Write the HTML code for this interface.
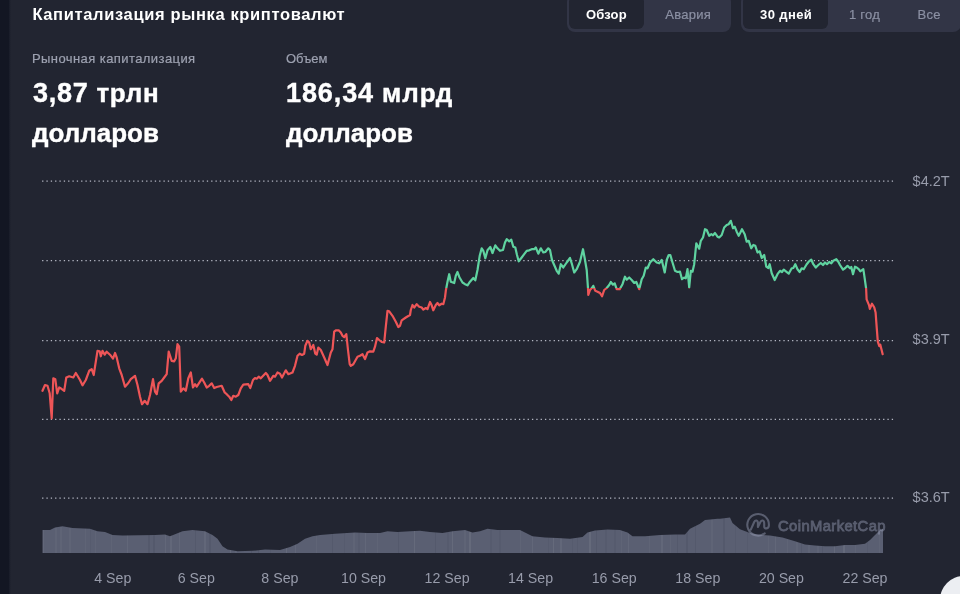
<!DOCTYPE html>
<html lang="ru"><head><meta charset="utf-8"><title>Капитализация рынка криптовалют</title>
<style>
html,body{margin:0;padding:0}
body{width:960px;height:594px;overflow:hidden;background:#222531;position:relative;font-family:"Liberation Sans",sans-serif;color:#fff}
.strip{position:absolute;left:0;top:0;width:9px;height:594px;background:#131623}
.strip2{position:absolute;left:9px;top:0;width:2px;height:594px;background:linear-gradient(90deg,#181b28,#222531)}
.t{position:absolute;white-space:nowrap;line-height:1}
.title{left:32.4px;top:6px;font-size:16.5px;font-weight:700;color:#fff;letter-spacing:0.64px}
.lab{font-size:13px;color:#9da1b0;-webkit-text-stroke:0.2px #9da1b0}
.big{font-size:26px;font-weight:700;color:#fff;-webkit-text-stroke:0.4px #fff}
.dg{font-size:27px}
.grp{position:absolute;background:#323546;border-radius:8px}
.act{position:absolute;background:#222531;border-radius:6px}
.pt{font-size:13px;font-weight:700;color:#fff}
.pg{font-size:13px;color:#8b90a3;-webkit-text-stroke:0.2px #8b90a3}
.chart{position:absolute;left:0;top:0}
.fab{position:absolute;left:940px;top:575.5px;width:48px;height:48px;border-radius:50%;background:#eceef2}
</style></head><body>
<div class="strip"></div><div class="strip2"></div>
<div class="t title">Капитализация рынка криптовалют</div>
<div class="grp" style="left:566.7px;top:-6px;width:164.6px;height:37.5px"></div>
<div class="act" style="left:568.8px;top:-4px;width:75px;height:33.2px"></div>
<div class="t pt" style="left:586px;top:8px;letter-spacing:0.15px">Обзор</div>
<div class="t pg" style="left:665.2px;top:8px;letter-spacing:0.3px">Авария</div>
<div class="grp" style="left:740.6px;top:-6px;width:220.2px;height:37.5px"></div>
<div class="act" style="left:743.2px;top:-4px;width:84.6px;height:33.2px"></div>
<div class="t pt" style="left:760px;top:8px;letter-spacing:0.4px">30 дней</div>
<div class="t pg" style="left:849px;top:8px;letter-spacing:0.25px">1 год</div>
<div class="t pg" style="left:917.5px;top:8px;letter-spacing:0.3px">Все</div>
<div class="t lab" style="left:32px;top:51.5px;letter-spacing:0.42px">Рыночная капитализация</div>
<div class="t lab" style="left:286px;top:51.5px">Объем</div>
<div class="t big" style="left:33px;top:79.7px;letter-spacing:0.72px"><span class="dg">3,87</span> трлн</div>
<div class="t big" style="left:32px;top:120px">долларов</div>
<div class="t big" style="left:286px;top:79.7px;letter-spacing:0.9px"><span class="dg">186,34</span> млрд</div>
<div class="t big" style="left:286px;top:120px">долларов</div>
<svg class="chart" width="960" height="594" viewBox="0 0 960 594">
<defs><linearGradient id="rg" gradientUnits="userSpaceOnUse" x1="0" y1="0" x2="0" y2="594"><stop offset="0" stop-color="#5fd3a0"/><stop offset="0.48535" stop-color="#5fd3a0"/><stop offset="0.48535" stop-color="#ee5557"/><stop offset="1" stop-color="#ee5557"/></linearGradient></defs>
<line x1="42.1" x2="893.5" y1="181.0" y2="181.0" stroke="#b4b7c3" stroke-width="1.25" stroke-dasharray="1.3 3.035"/>
<line x1="42.1" x2="893.5" y1="260.7" y2="260.7" stroke="#b4b7c3" stroke-width="1.25" stroke-dasharray="1.3 3.035"/>
<line x1="42.1" x2="893.5" y1="340.5" y2="340.5" stroke="#b4b7c3" stroke-width="1.25" stroke-dasharray="1.3 3.035"/>
<line x1="42.1" x2="893.5" y1="419.3" y2="419.3" stroke="#b4b7c3" stroke-width="1.25" stroke-dasharray="1.3 3.035"/>
<line x1="42.1" x2="893.5" y1="498.0" y2="498.0" stroke="#b4b7c3" stroke-width="1.25" stroke-dasharray="1.3 3.035"/>
<path d="M42.5,530.0 L50.0,530.0 L55.0,527.5 L62.5,526.2 L72.5,528.0 L90.0,528.8 L97.5,531.2 L105.0,532.0 L112.5,535.0 L122.5,535.5 L155.0,535.0 L165.0,534.5 L170.0,536.2 L176.2,533.8 L182.5,531.2 L192.5,530.0 L205.0,531.2 L212.5,535.0 L217.5,538.8 L222.5,546.2 L227.5,549.5 L237.5,551.2 L252.5,550.8 L265.0,549.5 L280.0,550.0 L290.0,547.0 L297.5,543.8 L305.0,538.8 L312.5,536.2 L320.0,535.0 L335.0,533.8 L355.0,532.5 L367.5,533.0 L380.0,533.0 L387.5,531.2 L397.5,532.0 L410.0,531.2 L420.0,530.8 L430.0,532.0 L442.5,533.0 L452.5,531.2 L465.0,530.0 L472.5,532.5 L480.0,531.2 L487.5,528.8 L497.5,530.0 L510.0,530.0 L520.0,530.0 L525.0,532.5 L532.5,536.2 L545.0,537.5 L557.5,538.0 L570.0,538.8 L582.5,537.0 L587.5,532.5 L595.0,530.5 L607.5,529.5 L620.0,530.0 L627.5,532.5 L632.5,536.2 L645.0,536.2 L660.0,535.0 L675.0,534.5 L685.0,534.5 L690.0,528.8 L700.0,523.8 L705.0,520.0 L717.5,518.8 L720.0,518.8 L730.0,517.5 L732.5,523.0 L740.0,529.2 L750.0,533.0 L760.0,535.0 L770.0,535.5 L782.5,537.5 L795.0,541.2 L805.0,544.5 L815.0,545.5 L825.0,546.2 L835.0,546.2 L845.0,545.0 L855.0,545.0 L865.0,543.8 L870.0,540.0 L875.0,535.0 L880.0,530.0 L883.0,528.8 L883.0,553 L42.5,553 Z" fill="#5a5f72"/>
<clipPath id="vc"><path d="M42.5,530.0 L50.0,530.0 L55.0,527.5 L62.5,526.2 L72.5,528.0 L90.0,528.8 L97.5,531.2 L105.0,532.0 L112.5,535.0 L122.5,535.5 L155.0,535.0 L165.0,534.5 L170.0,536.2 L176.2,533.8 L182.5,531.2 L192.5,530.0 L205.0,531.2 L212.5,535.0 L217.5,538.8 L222.5,546.2 L227.5,549.5 L237.5,551.2 L252.5,550.8 L265.0,549.5 L280.0,550.0 L290.0,547.0 L297.5,543.8 L305.0,538.8 L312.5,536.2 L320.0,535.0 L335.0,533.8 L355.0,532.5 L367.5,533.0 L380.0,533.0 L387.5,531.2 L397.5,532.0 L410.0,531.2 L420.0,530.8 L430.0,532.0 L442.5,533.0 L452.5,531.2 L465.0,530.0 L472.5,532.5 L480.0,531.2 L487.5,528.8 L497.5,530.0 L510.0,530.0 L520.0,530.0 L525.0,532.5 L532.5,536.2 L545.0,537.5 L557.5,538.0 L570.0,538.8 L582.5,537.0 L587.5,532.5 L595.0,530.5 L607.5,529.5 L620.0,530.0 L627.5,532.5 L632.5,536.2 L645.0,536.2 L660.0,535.0 L675.0,534.5 L685.0,534.5 L690.0,528.8 L700.0,523.8 L705.0,520.0 L717.5,518.8 L720.0,518.8 L730.0,517.5 L732.5,523.0 L740.0,529.2 L750.0,533.0 L760.0,535.0 L770.0,535.5 L782.5,537.5 L795.0,541.2 L805.0,544.5 L815.0,545.5 L825.0,546.2 L835.0,546.2 L845.0,545.0 L855.0,545.0 L865.0,543.8 L870.0,540.0 L875.0,535.0 L880.0,530.0 L883.0,528.8 L883.0,553 L42.5,553 Z"/></clipPath><g clip-path="url(#vc)"><rect x="43.0" y="515" width="1" height="40" fill="rgba(255,255,255,0.05)"/><rect x="55.0" y="515" width="2" height="40" fill="rgba(255,255,255,0.03)"/><rect x="60.0" y="515" width="2" height="40" fill="rgba(255,255,255,0.03)"/><rect x="69.0" y="515" width="2" height="40" fill="rgba(255,255,255,0.03)"/><rect x="85.0" y="515" width="1" height="40" fill="rgba(255,255,255,0.03)"/><rect x="90.0" y="515" width="1" height="40" fill="rgba(20,22,34,0.05)"/><rect x="95.0" y="515" width="1" height="40" fill="rgba(255,255,255,0.03)"/><rect x="111.0" y="515" width="1" height="40" fill="rgba(255,255,255,0.03)"/><rect x="127.0" y="515" width="1" height="40" fill="rgba(255,255,255,0.05)"/><rect x="148.0" y="515" width="2" height="40" fill="rgba(20,22,34,0.08)"/><rect x="153.0" y="515" width="2" height="40" fill="rgba(20,22,34,0.08)"/><rect x="165.0" y="515" width="1" height="40" fill="rgba(255,255,255,0.05)"/><rect x="170.0" y="515" width="2" height="40" fill="rgba(255,255,255,0.05)"/><rect x="179.0" y="515" width="1" height="40" fill="rgba(255,255,255,0.05)"/><rect x="195.0" y="515" width="1" height="40" fill="rgba(20,22,34,0.08)"/><rect x="204.0" y="515" width="2" height="40" fill="rgba(255,255,255,0.05)"/><rect x="209.0" y="515" width="2" height="40" fill="rgba(20,22,34,0.08)"/><rect x="230.0" y="515" width="1" height="40" fill="rgba(255,255,255,0.07)"/><rect x="235.0" y="515" width="2" height="40" fill="rgba(255,255,255,0.03)"/><rect x="251.0" y="515" width="1" height="40" fill="rgba(20,22,34,0.08)"/><rect x="258.0" y="515" width="1" height="40" fill="rgba(20,22,34,0.08)"/><rect x="270.0" y="515" width="1" height="40" fill="rgba(20,22,34,0.05)"/><rect x="286.0" y="515" width="1" height="40" fill="rgba(255,255,255,0.07)"/><rect x="295.0" y="515" width="1" height="40" fill="rgba(255,255,255,0.05)"/><rect x="316.0" y="515" width="1" height="40" fill="rgba(255,255,255,0.03)"/><rect x="332.0" y="515" width="1" height="40" fill="rgba(20,22,34,0.08)"/><rect x="344.0" y="515" width="1" height="40" fill="rgba(20,22,34,0.05)"/><rect x="353.0" y="515" width="2" height="40" fill="rgba(255,255,255,0.03)"/><rect x="358.0" y="515" width="2" height="40" fill="rgba(20,22,34,0.05)"/><rect x="365.0" y="515" width="1" height="40" fill="rgba(255,255,255,0.05)"/><rect x="377.0" y="515" width="1" height="40" fill="rgba(255,255,255,0.03)"/><rect x="398.0" y="515" width="1" height="40" fill="rgba(20,22,34,0.08)"/><rect x="414.0" y="515" width="1" height="40" fill="rgba(255,255,255,0.07)"/><rect x="435.0" y="515" width="1" height="40" fill="rgba(20,22,34,0.08)"/><rect x="447.0" y="515" width="2" height="40" fill="rgba(20,22,34,0.05)"/><rect x="452.0" y="515" width="1" height="40" fill="rgba(255,255,255,0.07)"/><rect x="464.0" y="515" width="2" height="40" fill="rgba(255,255,255,0.03)"/><rect x="469.0" y="515" width="2" height="40" fill="rgba(255,255,255,0.07)"/><rect x="490.0" y="515" width="2" height="40" fill="rgba(20,22,34,0.05)"/><rect x="499.0" y="515" width="2" height="40" fill="rgba(20,22,34,0.05)"/><rect x="520.0" y="515" width="1" height="40" fill="rgba(255,255,255,0.03)"/><rect x="532.0" y="515" width="1" height="40" fill="rgba(255,255,255,0.05)"/><rect x="548.0" y="515" width="1" height="40" fill="rgba(20,22,34,0.05)"/><rect x="553.0" y="515" width="1" height="40" fill="rgba(255,255,255,0.07)"/><rect x="560.0" y="515" width="2" height="40" fill="rgba(255,255,255,0.05)"/><rect x="572.0" y="515" width="1" height="40" fill="rgba(20,22,34,0.05)"/><rect x="577.0" y="515" width="1" height="40" fill="rgba(20,22,34,0.05)"/><rect x="589.0" y="515" width="2" height="40" fill="rgba(255,255,255,0.07)"/><rect x="596.0" y="515" width="1" height="40" fill="rgba(20,22,34,0.08)"/><rect x="605.0" y="515" width="2" height="40" fill="rgba(20,22,34,0.05)"/><rect x="614.0" y="515" width="2" height="40" fill="rgba(20,22,34,0.05)"/><rect x="621.0" y="515" width="1" height="40" fill="rgba(255,255,255,0.03)"/><rect x="628.0" y="515" width="1" height="40" fill="rgba(255,255,255,0.05)"/><rect x="649.0" y="515" width="1" height="40" fill="rgba(255,255,255,0.03)"/><rect x="661.0" y="515" width="2" height="40" fill="rgba(255,255,255,0.05)"/><rect x="670.0" y="515" width="1" height="40" fill="rgba(255,255,255,0.03)"/><rect x="677.0" y="515" width="1" height="40" fill="rgba(20,22,34,0.08)"/><rect x="686.0" y="515" width="2" height="40" fill="rgba(20,22,34,0.08)"/><rect x="695.0" y="515" width="1" height="40" fill="rgba(20,22,34,0.08)"/><rect x="711.0" y="515" width="2" height="40" fill="rgba(255,255,255,0.03)"/><rect x="723.0" y="515" width="2" height="40" fill="rgba(20,22,34,0.08)"/><rect x="735.0" y="515" width="1" height="40" fill="rgba(20,22,34,0.05)"/><rect x="747.0" y="515" width="1" height="40" fill="rgba(20,22,34,0.05)"/><rect x="768.0" y="515" width="1" height="40" fill="rgba(255,255,255,0.03)"/><rect x="775.0" y="515" width="1" height="40" fill="rgba(255,255,255,0.05)"/><rect x="787.0" y="515" width="1" height="40" fill="rgba(255,255,255,0.03)"/><rect x="796.0" y="515" width="2" height="40" fill="rgba(255,255,255,0.03)"/><rect x="801.0" y="515" width="1" height="40" fill="rgba(20,22,34,0.08)"/><rect x="808.0" y="515" width="2" height="40" fill="rgba(255,255,255,0.03)"/><rect x="817.0" y="515" width="2" height="40" fill="rgba(255,255,255,0.03)"/><rect x="822.0" y="515" width="1" height="40" fill="rgba(20,22,34,0.08)"/><rect x="834.0" y="515" width="1" height="40" fill="rgba(255,255,255,0.07)"/><rect x="843.0" y="515" width="2" height="40" fill="rgba(255,255,255,0.07)"/><rect x="855.0" y="515" width="1" height="40" fill="rgba(255,255,255,0.03)"/><rect x="867.0" y="515" width="1" height="40" fill="rgba(20,22,34,0.05)"/><rect x="879.0" y="515" width="1" height="40" fill="rgba(255,255,255,0.03)"/></g>
<g opacity="0.48" fill="none" stroke="#969cb4" stroke-width="2.1" stroke-linecap="round" stroke-linejoin="round"><path d="M764.75,533.3 A10.8,10.8 0 1 1 768.9,525.2 C768.9,528.8 764.2,529.6 764.2,526.4 L764.2,523.2 C764.2,520 761.6,519.8 760.4,522 L757.9,527 L757.9,523.2 C757.9,520 755.3,519.8 754.2,522 L750.8,529.6"/></g>
<text x="778" y="530.9" font-family="Liberation Sans, sans-serif" font-weight="400" font-size="14.8" opacity="0.48" fill="#969cb4" stroke="#969cb4" stroke-width="0.8" textLength="107.5" lengthAdjust="spacing">CoinMarketCap</text>
<path d="M42.5,390.8 L45.0,385.0 L47.5,385.8 L49.7,393.3 L51.7,418.3 L53.3,378.3 L55.3,379.2 L57.2,393.3 L59.2,387.5 L60.8,388.3 L64.2,390.8 L66.3,377.5 L69.2,376.3 L73.3,377.5 L75.8,373.0 L77.5,375.8 L80.0,380.0 L82.5,385.3 L85.8,380.0 L89.2,370.8 L91.7,369.2 L93.7,375.0 L97.5,350.8 L99.7,351.3 L100.8,356.3 L102.5,350.8 L104.7,354.7 L106.7,351.7 L110.0,354.7 L113.0,358.7 L115.0,353.0 L116.7,357.5 L119.2,368.3 L121.7,375.0 L125.0,386.7 L128.3,383.0 L130.8,379.2 L135.0,375.8 L137.5,385.0 L140.0,396.7 L142.0,404.2 L144.7,400.8 L147.5,404.2 L150.0,395.0 L153.0,379.2 L155.0,391.7 L156.7,394.2 L158.7,383.3 L161.7,380.8 L164.2,377.5 L166.7,374.2 L168.7,351.7 L171.7,360.8 L174.2,361.3 L175.8,358.3 L177.5,344.2 L179.2,346.7 L180.8,391.7 L183.3,388.3 L185.8,390.8 L188.3,378.3 L190.8,372.5 L193.0,387.5 L195.0,384.2 L196.7,386.7 L200.0,381.7 L202.0,378.7 L204.2,382.5 L206.7,387.5 L209.2,385.8 L211.7,383.3 L214.2,388.0 L216.7,387.0 L221.7,385.8 L224.7,392.5 L226.7,394.2 L229.2,396.7 L231.3,400.0 L233.3,395.8 L235.8,396.7 L238.3,395.0 L240.8,388.3 L243.3,384.7 L248.3,384.2 L250.3,388.0 L253.0,380.0 L255.0,378.0 L256.7,378.7 L258.7,376.7 L260.8,378.3 L265.8,373.0 L267.5,375.0 L270.0,380.8 L273.3,375.8 L275.0,376.7 L277.5,372.5 L280.0,373.7 L282.0,377.5 L285.8,370.3 L288.3,374.2 L292.5,372.5 L295.0,365.8 L297.5,355.8 L299.7,353.7 L302.0,355.0 L304.2,353.7 L305.3,345.8 L307.5,340.8 L309.2,342.5 L310.8,349.2 L313.3,345.0 L315.3,353.7 L316.7,354.7 L318.3,347.5 L320.8,350.0 L324.2,357.5 L327.5,365.0 L330.8,352.5 L332.5,349.2 L334.2,331.7 L335.8,330.3 L338.7,330.3 L340.8,332.5 L342.5,335.8 L344.2,337.0 L346.3,334.2 L348.0,350.0 L349.7,364.2 L350.8,365.8 L353.3,364.2 L357.5,356.7 L360.0,355.8 L362.5,354.2 L365.0,359.0 L367.5,352.5 L370.0,351.3 L373.3,351.7 L375.0,346.7 L377.0,338.0 L379.2,340.0 L381.7,342.0 L384.2,342.5 L385.8,326.7 L387.5,310.8 L389.2,311.3 L392.5,315.8 L395.8,321.7 L398.3,327.0 L400.0,325.8 L401.7,320.3 L405.8,317.5 L410.0,315.0 L410.8,310.0 L412.5,305.0 L414.2,307.5 L416.7,304.2 L419.2,306.7 L421.7,307.5 L423.3,309.7 L425.8,308.0 L427.5,309.2 L430.0,302.0 L431.7,305.3 L433.3,310.3 L435.8,305.0 L437.5,303.0 L439.2,305.3 L441.7,303.7 L443.3,304.2 L445.0,297.5 L445.8,290.8 L447.5,281.7 L449.2,274.2 L450.8,281.7 L454.2,283.0 L455.8,275.8 L457.5,272.0 L459.2,276.7 L460.0,278.3 L462.5,282.5 L465.0,284.2 L467.5,285.3 L470.0,281.7 L473.3,278.0 L475.3,280.3 L477.5,270.0 L479.7,255.8 L481.7,248.3 L483.3,250.8 L485.3,258.3 L487.5,250.3 L490.3,247.0 L492.5,253.0 L495.3,245.3 L497.5,248.3 L500.0,250.8 L503.0,250.0 L505.0,242.5 L506.7,239.2 L509.2,241.3 L511.3,239.7 L513.3,246.7 L515.3,247.5 L517.0,255.0 L518.7,261.3 L521.7,257.5 L524.2,254.2 L526.7,250.8 L529.2,250.3 L531.7,249.2 L534.2,249.2 L535.8,247.5 L538.3,253.7 L540.8,248.3 L543.3,252.5 L545.3,252.0 L548.3,248.3 L550.0,250.0 L552.0,260.0 L554.2,265.0 L556.7,270.8 L558.7,273.7 L560.8,264.2 L563.3,267.5 L566.7,262.5 L570.0,258.0 L571.7,263.3 L574.2,272.5 L576.7,269.2 L580.0,261.7 L583.0,249.2 L584.7,258.3 L586.7,270.0 L588.0,288.3 L588.3,295.0 L590.0,290.0 L591.7,288.3 L593.3,285.8 L595.3,290.8 L597.5,291.7 L600.0,293.0 L602.0,296.3 L604.2,290.0 L606.7,288.0 L609.2,285.0 L610.8,282.0 L613.0,284.7 L614.7,283.3 L616.7,289.2 L619.7,289.2 L622.5,284.2 L625.0,276.7 L626.7,279.7 L629.2,277.5 L631.7,280.0 L634.2,283.0 L636.3,282.0 L639.2,289.2 L641.7,279.2 L643.7,275.8 L645.8,267.5 L647.5,268.3 L650.0,262.5 L653.3,259.2 L656.7,262.5 L659.2,263.3 L661.7,260.0 L664.7,272.5 L666.7,260.0 L668.7,255.0 L670.3,255.0 L672.5,262.5 L675.0,270.8 L677.5,272.0 L680.0,271.7 L682.0,279.2 L684.2,277.5 L685.8,278.3 L687.5,269.2 L689.2,287.5 L690.8,270.8 L692.5,271.7 L694.2,264.2 L696.3,243.3 L699.2,248.7 L700.8,240.8 L703.0,237.5 L705.0,229.2 L706.7,230.0 L709.2,235.8 L711.3,234.2 L713.0,235.3 L715.0,233.0 L717.5,236.7 L719.2,237.5 L721.7,235.0 L724.2,227.5 L726.7,225.0 L728.7,224.2 L730.8,220.8 L733.0,228.3 L734.7,226.7 L736.7,231.7 L738.7,235.8 L740.0,233.3 L742.0,229.2 L744.7,234.2 L746.7,241.7 L748.7,240.8 L751.3,248.3 L753.3,245.0 L755.3,245.8 L757.5,252.5 L759.7,251.3 L761.7,258.0 L764.2,255.0 L766.3,266.7 L768.3,268.0 L769.7,264.2 L771.7,273.3 L774.7,280.0 L777.5,274.2 L780.0,270.8 L782.0,272.0 L783.7,269.7 L788.7,273.7 L791.7,268.3 L793.3,268.0 L795.3,264.2 L797.5,269.2 L799.7,272.0 L801.7,268.3 L803.7,269.2 L806.7,264.2 L808.7,261.7 L811.3,259.7 L813.3,264.2 L815.8,267.5 L818.3,265.0 L820.8,263.0 L823.0,265.0 L825.0,262.5 L827.0,264.2 L829.2,262.0 L831.3,263.3 L833.3,260.8 L836.3,259.2 L838.3,261.7 L840.0,265.0 L843.0,269.7 L845.3,268.0 L847.5,265.8 L850.0,268.3 L851.3,267.0 L853.0,274.2 L855.0,266.7 L856.7,267.5 L858.7,269.2 L860.3,271.3 L863.3,269.2 L863.9,272.9 L866.1,288.3 L866.6,299.3 L869.0,305.1 L869.8,308.8 L872.0,303.7 L874.2,307.3 L875.6,312.5 L876.8,328.6 L877.8,341.7 L879.3,346.1 L880.3,344.7 L882.7,354.2" fill="none" stroke="url(#rg)" stroke-width="2.2" stroke-linejoin="round" stroke-linecap="round"/>
<text x="912.6" y="186.0" font-family="Liberation Sans, sans-serif" font-size="14.5" fill="#989cab">$4.2T</text>
<text x="912.6" y="344.4" font-family="Liberation Sans, sans-serif" font-size="14.5" fill="#989cab">$3.9T</text>
<text x="912.6" y="502.2" font-family="Liberation Sans, sans-serif" font-size="14.5" fill="#989cab">$3.6T</text>
<text x="112.8" y="582.6" text-anchor="middle" font-family="Liberation Sans, sans-serif" font-size="14.2" fill="#989cab">4 Sep</text>
<text x="196.3" y="582.6" text-anchor="middle" font-family="Liberation Sans, sans-serif" font-size="14.2" fill="#989cab">6 Sep</text>
<text x="279.9" y="582.6" text-anchor="middle" font-family="Liberation Sans, sans-serif" font-size="14.2" fill="#989cab">8 Sep</text>
<text x="363.5" y="582.6" text-anchor="middle" font-family="Liberation Sans, sans-serif" font-size="14.2" fill="#989cab">10 Sep</text>
<text x="447.1" y="582.6" text-anchor="middle" font-family="Liberation Sans, sans-serif" font-size="14.2" fill="#989cab">12 Sep</text>
<text x="530.6" y="582.6" text-anchor="middle" font-family="Liberation Sans, sans-serif" font-size="14.2" fill="#989cab">14 Sep</text>
<text x="614.2" y="582.6" text-anchor="middle" font-family="Liberation Sans, sans-serif" font-size="14.2" fill="#989cab">16 Sep</text>
<text x="697.8" y="582.6" text-anchor="middle" font-family="Liberation Sans, sans-serif" font-size="14.2" fill="#989cab">18 Sep</text>
<text x="781.4" y="582.6" text-anchor="middle" font-family="Liberation Sans, sans-serif" font-size="14.2" fill="#989cab">20 Sep</text>
<text x="865.0" y="582.6" text-anchor="middle" font-family="Liberation Sans, sans-serif" font-size="14.2" fill="#989cab">22 Sep</text>
</svg>
<div class="fab"></div>
</body></html>
